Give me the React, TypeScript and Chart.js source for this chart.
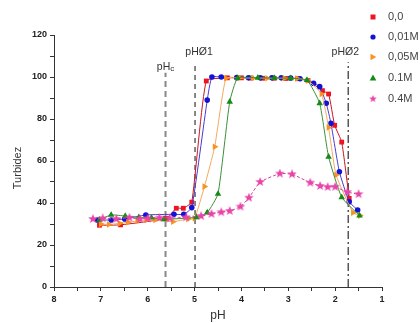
import React, { useEffect, useRef } from "react";
import { Chart, registerables } from "chart.js";

Chart.register(...registerables);

// ---- data ----
const seriesNames = ["0,0", "0,01M", "0,05M", "0.1M", "0.4M"];

const ph00 = [7.03, 6.58, 5.6, 5.39, 5.24, 5.06, 4.75, 4.3, 4.0, 3.79, 3.55, 3.3, 3.05, 2.8, 2.58, 2.27, 2.14, 2.01, 1.86, 1.70];
const t00 = [29.4, 29.6, 32.7, 37.5, 37.5, 40.4, 98.1, 99.6, 99.6, 99.5, 99.4, 99.4, 99.3, 99.2, 98.3, 93.5, 91.9, 77, 69, 42.2];

const ph001 = [7.07, 6.78, 6.49, 6.04, 5.44, 5.23, 5.06, 4.73, 4.63, 4.43, 4.1, 3.85, 3.6, 3.35, 3.15, 2.95, 2.75, 2.46, 2.33, 2.19, 2.09, 1.91, 1.70, 1.52];
const t001 = [31.9, 31.9, 32.4, 34.3, 34.6, 34.6, 37.8, 89, 100, 100, 99.7, 99.6, 99.6, 99.6, 99.6, 99.5, 99.2, 97, 95.4, 87.5, 78, 54.9, 40.6, 36.7];

const ph005 = [7.0, 6.83, 6.6, 6.42, 6.22, 6.03, 5.84, 5.46, 5.14, 5.0, 4.79, 4.57, 4.33, 4.04, 3.76, 3.45, 3.08, 2.81, 2.58, 2.29, 2.14, 1.98, 1.62, 1.47];
const t005 = [30.0, 29.8, 30.3, 30.8, 31.4, 31.9, 31.9, 31.1, 32.4, 32.7, 47.8, 66.8, 99.4, 99.5, 99.5, 99.4, 99.4, 99.3, 98.3, 91.9, 76, 53.3, 35.4, 34];

const ph01 = [7.03, 6.78, 6.48, 6.19, 5.92, 5.66, 4.96, 4.73, 4.5, 4.25, 4.08, 3.65, 3.3, 2.95, 2.6, 2.33, 2.14, 1.86, 1.48];
const t01 = [32, 34.3, 33.8, 33.2, 33, 32.2, 33.2, 35.4, 44.3, 88.2, 99.5, 99.6, 99.5, 99.4, 98.5, 87.5, 62, 42.7, 34];

const ph04 = [7.17, 6.96, 6.67, 6.39, 6.17, 6.0, 5.75, 5.53, 5.18, 4.86, 4.64, 4.43, 4.25, 4.02, 3.84, 3.6, 3.18, 2.92, 2.53, 2.32, 2.16, 2.0, 1.74, 1.5];
const t04 = [32.4, 32.7, 32.4, 33, 32.4, 32.7, 33, 32.7, 33.2, 33.8, 34.8, 35.6, 36.2, 38.3, 42.5, 50, 54, 53.7, 49.7, 48.1, 47.6, 47.7, 45.2, 44.2];

// reference lines (pH position, top in turbidity units)
const refPH = [5.62, 4.99, 1.72];
const refTop = [102, 107, 107];
const refLabels = ["pHc", "pHØ1", "pHØ2"];

const xTicksMajor = [1, 2, 3, 4, 5, 6, 7, 8];
const yTicksMajor = [0, 20, 40, 60, 80, 100, 120];

const markerColors = ["#ee1520", "#1212d6", "#f7931e", "#158a15", "#e845a8"];
const lineColors = ["#c8141c", "#4a3ad0", "#f5a860", "#3a8f3a", "#d0409a"];

function toPts(xs: number[], ys: number[]) {
  return xs.map((x, i) => ({ x, y: ys[i] }));
}

function makeStar(color: string, size: number) {
  const c = document.createElement("canvas");
  c.width = size;
  c.height = size;
  const ctx = c.getContext("2d")!;
  const cx = size / 2, cy = size / 2;
  const R = size / 2, r = R * 0.42;
  ctx.beginPath();
  for (let i = 0; i < 10; i++) {
    const a = -Math.PI / 2 + (i * Math.PI) / 5;
    const rad = i % 2 === 0 ? R : r;
    const px = cx + Math.cos(a) * rad, py = cy + Math.sin(a) * rad;
    if (i === 0) ctx.moveTo(px, py);
    else ctx.lineTo(px, py);
  }
  ctx.closePath();
  ctx.fillStyle = color;
  ctx.fill();
  return c;
}

export default function App() {
  const ref = useRef<HTMLCanvasElement | null>(null);

  useEffect(() => {
    if (!ref.current) return;
    const star = makeStar(markerColors[4], 10);

    const styles: any[] = [
      { pointStyle: "rect", pointRadius: 3.4, rotation: 0 },
      { pointStyle: "circle", pointRadius: 2.8, rotation: 0 },
      { pointStyle: "triangle", pointRadius: 3.8, rotation: 90 },
      { pointStyle: "triangle", pointRadius: 3.8, rotation: 0 },
      { pointStyle: star, pointRadius: 5, rotation: 0 },
    ];
    const xs = [ph00, ph001, ph005, ph01, ph04];
    const ys = [t00, t001, t005, t01, t04];

    const seriesDatasets = seriesNames.map((name, i) => ({
      type: "line" as const,
      label: name,
      data: toPts(xs[i], ys[i]),
      borderColor: lineColors[i],
      borderWidth: 1,
      borderDash: i === 4 ? [3, 2] : [],
      backgroundColor: markerColors[i],
      pointBackgroundColor: markerColors[i],
      pointBorderColor: markerColors[i],
      pointBorderWidth: 0,
      pointStyle: styles[i].pointStyle,
      pointRadius: styles[i].pointRadius,
      pointRotation: styles[i].rotation,
      tension: 0.15,
      order: 5 - i,
    }));

    const refStyles = [
      { color: "#888888", width: 2, dash: [6, 4] },
      { color: "#111111", width: 1, dash: [5, 4] },
      { color: "#555555", width: 1.5, dash: [8, 3, 2, 3] },
    ];
    const refDatasets = refPH.map((p, i) => ({
      type: "line" as const,
      label: refLabels[i],
      data: [{ x: p, y: 0 }, { x: p, y: refTop[i] }],
      borderColor: refStyles[i].color,
      borderWidth: refStyles[i].width,
      borderDash: refStyles[i].dash,
      pointRadius: 0,
      order: 10,
    }));

    const FONT = "'Liberation Sans', Arial, sans-serif";

    const annot = {
      id: "annot",
      afterDraw(chart: any) {
        const ctx = chart.ctx as CanvasRenderingContext2D;
        const xs = chart.scales.x;
        const ysc = chart.scales.y;
        ctx.save();
        // axis titles
        ctx.fillStyle = "#333";
        ctx.font = `11px ${FONT}`;
        ctx.textAlign = "center";
        ctx.textBaseline = "middle";
        ctx.save();
        ctx.translate(18, 168);
        ctx.rotate(-Math.PI / 2);
        ctx.fillText("Turbidez", 0, 0);
        ctx.restore();
        ctx.font = `12px ${FONT}`;
        ctx.fillText("pH", (chart.chartArea.left + chart.chartArea.right) / 2, 316);

        // reference line labels
        ctx.font = `10.5px ${FONT}`;
        ctx.fillStyle = "#333";
        const x0 = xs.getPixelForValue(refPH[0]);
        const yTop0 = ysc.getPixelForValue(refTop[0]);
        ctx.textAlign = "left";
        const w1 = ctx.measureText("pH").width;
        ctx.font = `8px ${FONT}`;
        const w2 = ctx.measureText("c").width;
        const startX = x0 - (w1 + w2) / 2;
        ctx.font = `10.5px ${FONT}`;
        ctx.fillText("pH", startX, yTop0 - 6);
        ctx.font = `8px ${FONT}`;
        ctx.fillText("c", startX + w1, yTop0 - 4);
        ctx.font = `10.5px ${FONT}`;
        ctx.textAlign = "center";
        for (let i = 1; i < 3; i++) {
          const xp = xs.getPixelForValue(refPH[i]);
          const yp = ysc.getPixelForValue(refTop[i]);
          ctx.fillText(refLabels[i], xp + (i === 1 ? 4 : -3), yp - 10);
        }

        // legend
        const rowsY = [17, 37, 57, 78, 99];
        for (let i = 0; i < seriesNames.length; i++) {
          const my = rowsY[i];
          const mx = 373;
          ctx.fillStyle = markerColors[i];
          ctx.beginPath();
          if (i === 0) {
            ctx.rect(mx - 2.5, my - 2.5, 5, 5);
          } else if (i === 1) {
            ctx.arc(mx, my, 2.6, 0, Math.PI * 2);
          } else if (i === 2) {
            ctx.moveTo(mx + 3.3, my);
            ctx.lineTo(mx - 2.5, my - 3.3);
            ctx.lineTo(mx - 2.5, my + 3.3);
            ctx.closePath();
          } else if (i === 3) {
            ctx.moveTo(mx, my - 3.4);
            ctx.lineTo(mx + 3.3, my + 2.4);
            ctx.lineTo(mx - 3.3, my + 2.4);
            ctx.closePath();
          }
          if (i < 4) ctx.fill();
          else ctx.drawImage(star, mx - 4, my - 4, 8, 8);
          ctx.fillStyle = "#444";
          ctx.font = `11px ${FONT}`;
          ctx.textAlign = "left";
          ctx.textBaseline = "middle";
          ctx.fillText(seriesNames[i], 388, my);
        }
        ctx.restore();
      },
    };

    const chart = new Chart(ref.current, {
      type: "line",
      data: { datasets: [...seriesDatasets, ...refDatasets] as any },
      options: {
        animation: false,
        responsive: false,
        devicePixelRatio: 1,
        layout: { padding: { left: 0, top: 35, right: 38, bottom: 0 } },
        plugins: { legend: { display: false }, tooltip: { enabled: false } },
        scales: {
          x: {
            type: "linear",
            reverse: true,
            min: 1,
            max: 8,
            afterFit: (s: any) => {
              s.height = 36;
            },
            border: { color: "#333", width: 1 },
            grid: { drawOnChartArea: false, tickLength: 4, color: "#333" },
            afterBuildTicks: (s: any) => {
              const t: any[] = [];
              for (let v = 1; v <= 8; v += 0.5) t.push({ value: v });
              s.ticks = t;
            },
            ticks: {
              autoSkip: false,
              maxRotation: 0,
              padding: 3,
              color: "#222",
              font: { family: FONT, size: 9, weight: "bold" },
              callback: (v: any) => (xTicksMajor.includes(Number(v)) ? String(v) : ""),
            },
          },
          y: {
            type: "linear",
            min: 0,
            max: 120,
            afterFit: (s: any) => {
              s.width = 54;
            },
            border: { color: "#333", width: 1 },
            grid: { drawOnChartArea: false, tickLength: 4, color: "#333" },
            ticks: {
              stepSize: 10,
              autoSkip: false,
              padding: 3,
              color: "#222",
              font: { family: FONT, size: 9, weight: "bold" },
              callback: (v: any) => (yTicksMajor.includes(Number(v)) ? String(v) : ""),
            },
          },
        },
      },
      plugins: [annot],
    });
    return () => chart.destroy();
  }, []);

  return (
    <div style={{ position: "fixed", left: 0, top: 0, width: 420, height: 323, background: "#fff" }}>
      <canvas ref={ref} width={420} height={323} style={{ display: "block" }} />
    </div>
  );
}
